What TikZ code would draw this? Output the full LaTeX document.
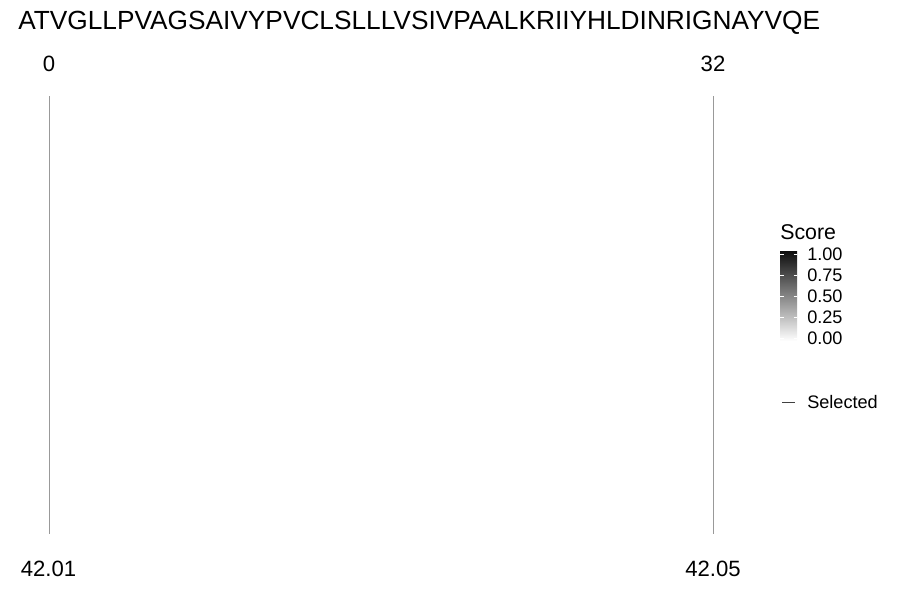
\documentclass[tikz,border=0pt]{standalone}
\usepackage{fontspec}
\setmainfont{Liberation Sans}
\begin{document}
\begin{tikzpicture}[x=0.75pt,y=-0.75pt,
  seqtext/.style={font=\fontsize{19.7}{23}\selectfont, inner sep=0pt, anchor=base west},
  axtext/.style={font=\fontsize{16.6}{19}\selectfont, inner sep=0pt, anchor=base},
  legtitle/.style={font=\fontsize{16}{18}\selectfont, inner sep=0pt, anchor=base west},
  legtext/.style={font=\fontsize{13.6}{16}\selectfont, inner sep=0pt, anchor=west},
  selline/.style={draw=black!40, line width=0.7pt},
  tickw/.style={draw=white, line width=0.4pt}]
\useasboundingbox (0,0) rectangle (900,600);
\node[seqtext] (seq) at (18,29) {ATVGLLPVAGSAIVYPVCLSLLLVSIVPAALKRIIYHLDINRIGNAYVQE};
\node[axtext] (l0) at (49,71) {0};
\node[axtext] (l32) at (713,71) {32};
\node[axtext] (b0) at (48.5,576) {42.01};
\node[axtext] (b32) at (713,576) {42.05};
\coordinate (t0) at (49,96);
\coordinate (e0) at (49,534);
\coordinate (t32) at (713,96);
\coordinate (e32) at (713,534);
\draw[selline] (t0) -- (e0);
\draw[selline] (t32) -- (e32);
% legend
\node[legtitle] (sc) at (780,239) {Score};
\shade[top color=black!95, bottom color=white] (780,251) rectangle (797,341);
\foreach \v/\lab [count=\i] in {0/1.00,1/0.75,2/0.50,3/0.25,4/0.00}{
  \pgfmathsetmacro{\yy}{254+21*\v}
  \draw[tickw] (780,\yy) -- (783.5,\yy);
  \draw[tickw] (793.5,\yy) -- (797,\yy);
  \node[legtext] (tk\i) at (807,\yy) {\lab};
}
\coordinate (s1) at (782,402);
\coordinate (s2) at (795,402);
\draw[selline, draw=black!75] (s1) -- (s2);
\node[legtext] (sel) at (807,402) {Selected};
\end{tikzpicture}
\end{document}
